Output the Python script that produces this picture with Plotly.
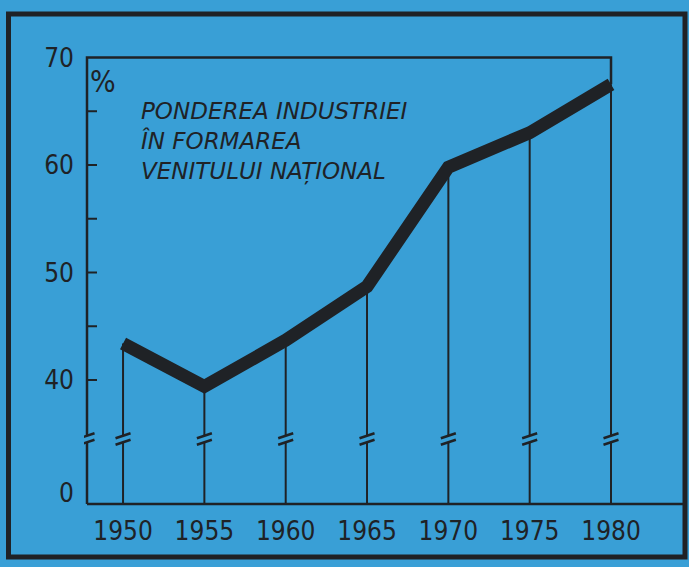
import plotly.graph_objects as go

# ---- data ----
years = [1950, 1955, 1960, 1965, 1970, 1975, 1980]
share = [43.4, 39.4, 43.7, 48.7, 59.8, 63.0, 67.5]
ytick_vals = [40, 50, 60, 70]
ytick_text = ["40", "50", "60", "70"]
minor_ticks = [40, 45, 50, 55, 60, 65]
zero_label = "0"
title_lines = ["PONDEREA INDUSTRIEI", "ÎN FORMAREA", "VENITULUI NAȚIONAL"]
unit_label = "%"

# ---- geometry / style ----
W, H = 689, 567
PL, PR, PT, PB = 84, 686, 52, 506          # plot area in pixels
BG = "#399fd6"
INK = "#1f2226"

XR = [1947.60, 1984.61]
YR = [28.28, 70.51]
xs = (PR - PL) / (XR[1] - XR[0])           # px per year
ys = (PB - PT) / (YR[1] - YR[0])           # px per unit

def px2x(p):
    return XR[0] + (p - PL) / xs

def px2y(p):
    return YR[0] + (PB - p) / ys

axis_x = px2x(87)
axis_bottom = px2y(504)
x_end = px2x(683)
zero_pos = px2y(493)
brk = px2y(439)           # break centre
gap = 3.2 / ys            # half spacing of break strokes
sdx = 7.5 / xs            # stroke half width
sdy = 2.5 / ys            # stroke half rise

fig = go.Figure()

# break strokes + vertical drop lines
vx, vy, bx, by = [], [], [], []
for xv, top in zip([axis_x] + years, [None] + share):
    lo, hi = brk - gap, brk + gap
    if top is not None:
        vx += [xv, xv, None, xv, xv, None]
        vy += [axis_bottom, lo, None, hi, top, None]
    for c in (lo, hi):
        bx += [xv - sdx, xv + sdx, None]
        by += [c - sdy, c + sdy, None]

fig.add_trace(go.Scatter(x=vx, y=vy, mode="lines",
                         line=dict(color=INK, width=2), hoverinfo="skip"))
fig.add_trace(go.Scatter(x=bx, y=by, mode="lines",
                         line=dict(color=INK, width=2.5), hoverinfo="skip"))

# frame: y axis (with break), top line, right edge at last year, x axis
fx = [axis_x, axis_x, None, axis_x, axis_x, years[-1], years[-1], None, axis_x, x_end]
fy = [axis_bottom, brk - gap, None, brk + gap, ytick_vals[-1], ytick_vals[-1], share[-1], None,
      axis_bottom, axis_bottom]
fig.add_trace(go.Scatter(x=fx, y=fy, mode="lines",
                         line=dict(color=INK, width=2.5), hoverinfo="skip"))

# minor tick marks on y axis (inside)
tx, ty = [], []
for t in minor_ticks:
    tx += [axis_x, axis_x + 10 / xs, None]
    ty += [t, t, None]
fig.add_trace(go.Scatter(x=tx, y=ty, mode="lines",
                         line=dict(color=INK, width=2), hoverinfo="skip"))

# main thick line
fig.add_trace(go.Scatter(x=years, y=share, mode="lines",
                         line=dict(color=INK, width=13), hoverinfo="skip"))

tick_font = dict(family="Liberation Sans Narrow, DejaVu Sans Condensed, sans-serif",
                 size=26, color=INK)

fig.update_layout(
    width=W, height=H,
    margin=dict(l=PL, r=W - PR, t=PT, b=H - PB, pad=0),
    paper_bgcolor=BG, plot_bgcolor=BG,
    showlegend=False,
    xaxis=dict(range=XR, showgrid=False, zeroline=False, showline=False,
               tickmode="array", tickvals=years, ticktext=[str(y) for y in years],
               ticks="", tickfont=tick_font, ticklabelstandoff=7),
    yaxis=dict(range=YR, showgrid=False, zeroline=False, showline=False,
               tickmode="array", tickvals=[zero_pos] + ytick_vals,
               ticktext=[zero_label] + ytick_text,
               ticks="", tickfont=tick_font, ticklabelstandoff=9),
)

def fx_paper(p):
    return (p - PL) / (PR - PL)

def fy_paper(p):
    return (PB - p) / (PB - PT)

fig.add_annotation(xref="paper", yref="paper", x=fx_paper(139), y=fy_paper(96),
                   xanchor="left", yanchor="top", align="left", showarrow=False,
                   text="<br>".join(title_lines),
                   font=dict(family="DejaVu Sans", size=23, color=INK, style="italic"))
fig.add_annotation(xref="paper", yref="paper", x=fx_paper(103), y=fy_paper(82),
                   xanchor="center", yanchor="middle", showarrow=False,
                   text=unit_label,
                   font=dict(family="Liberation Sans Narrow, DejaVu Sans Condensed, sans-serif",
                             size=30, color=INK))

# outer border
fig.add_shape(type="rect", xref="paper", yref="paper",
              x0=fx_paper(8.5), x1=fx_paper(685), y0=fy_paper(557), y1=fy_paper(14),
              line=dict(color=INK, width=5), layer="above")

fig.write_html("out.html",
               config={"displayModeBar": False},
               post_script="document.body.style.margin='0';"
                           "document.body.style.background='" + BG + "';")
